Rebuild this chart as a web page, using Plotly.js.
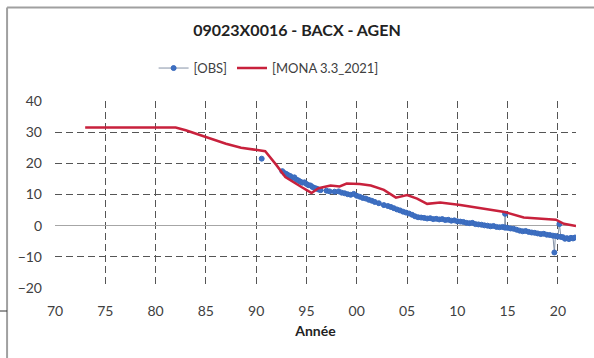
<!DOCTYPE html>
<html>
<head>
<meta charset="utf-8">
<script src="https://cdn.plot.ly/plotly-3.0.1.min.js"></script>
<style>
  html, body { margin: 0; padding: 0; background: #ffffff; }
  #chart { width: 594px; height: 358px; }
</style>
</head>
<body>
<div id="chart"></div>
<script>
// Observed piezometric levels (m NGF) - null breaks the line across gaps
const obsYears = [
  1990.55, null,
  1992.6, 1992.8, 1993.0, 1993.2, 1993.4, 1993.6, 1993.8, 1994.0, 1994.2, 1994.4,
  1994.6, 1994.8, 1995.0, 1995.2, 1995.4, 1995.6, 1995.8, 1996.0, 1996.2, 1996.4,
  1997.0, 1997.3, 1997.8, 1998.2, 1998.5, 1998.8, 1999.1, 1999.4, 1999.7, 2000.0,
  2000.3, 2000.6, 2000.9, 2001.2, 2001.5, 2001.8, 2002.2, 2002.7, 2003.1, 2003.4,
  2003.7, 2004.0, 2004.3, 2004.6, 2004.9, 2005.2, 2005.5, 2005.8, 2006.1, 2006.4,
  2006.7, 2007.0, 2007.3, 2007.6, 2007.9, 2008.2, 2008.5, 2008.8, 2009.1, 2009.4,
  2009.7, 2010.0, 2010.3, 2010.6, 2010.9, 2011.2, 2011.5, 2011.8, 2012.1, 2012.4,
  2012.7, 2013.0, 2013.3, 2013.6, 2013.9, 2014.2, 2014.5, 2014.7, 2014.75, 2014.8,
  2015.0, 2015.3, 2015.6, 2015.9, 2016.2, 2016.5, 2016.8, 2017.1, 2017.4, 2017.7,
  2018.0, 2018.3, 2018.6, 2018.9, 2019.2, 2019.5, 2019.65, 2019.75, 2020.0, 2020.15,
  2020.3, 2020.5, 2020.7, 2020.9, 2021.1, 2021.3, 2021.5, 2021.7
];
const obsValues = [
  21.5, null,
  17.5, 16.9, 16.6, 16.2, 15.9, 15.3, 15.5, 14.8, 14.5, 14.1,
  13.8, 13.9, 13.4, 13.0, 12.9, 12.4, 12.1, 11.9, 11.6, 11.4,
  11.2, 11.0, 10.9, 11.0, 10.6, 10.4, 10.1, 9.9, 10.2, 9.6,
  9.3, 8.9, 8.7, 8.3, 8.0, 7.6, 7.2, 6.6, 6.3, 6.0,
  5.6, 5.2, 4.9, 4.5, 4.2, 3.9, 3.5, 3.0, 2.7, 2.6,
  2.5, 2.3, 2.4, 2.1, 2.2, 2.0, 2.1, 1.8, 1.9, 1.6,
  1.7, 1.4, 1.3, 1.2, 0.9, 0.8, 0.9, 0.5, 0.4, 0.3,
  0.1, 0.0, -0.2, -0.1, -0.4, -0.5, -0.4, -0.6, 3.8, -0.6,
  -0.7, -0.9, -1.0, -1.3, -1.6, -1.8, -1.7, -2.0, -2.2, -2.3,
  -2.5, -2.7, -2.6, -2.9, -3.0, -3.2, -8.6, -3.3, -3.5, 0.5,
  -3.6, -3.7, -4.2, -4.0, -4.3, -3.9, -4.1, -3.8
];

// Simulated levels, MONA 3.3 model (2021 run)
const monaYears = [
  1973.0, 1982.0, 1983.0, 1985.0, 1987.0, 1988.5, 1990.0, 1990.9, 1992.0, 1992.9,
  1994.5, 1995.5, 1996.2, 1997.4, 1998.3, 1999.0, 2000.3, 2001.4, 2002.7, 2003.9,
  2005.0, 2006.0, 2007.0, 2008.3, 2010.3, 2012.5, 2014.7, 2016.6, 2019.8, 2020.6,
  2021.8
];
const monaValues = [
  31.5, 31.5, 30.6, 28.5, 26.3, 25.0, 24.4, 23.9, 19.5, 15.6,
  12.4, 10.5, 12.0, 12.9, 12.6, 13.5, 13.4, 12.9, 11.5, 9.0,
  9.8, 8.7, 7.0, 7.4, 6.6, 5.6, 4.4, 2.6, 1.9, 0.6,
  -0.1
];

const xTickVals = [1970, 1975, 1980, 1985, 1990, 1995, 2000, 2005, 2010, 2015, 2020];
const xTickText = ['70', '75', '80', '85', '90', '95', '00', '05', '10', '15', '20'];
const yTickVals = [-20, -10, 0, 10, 20, 30, 40];

const chartTitle = '09023X0016 - BACX - AGEN';
const xTitle = 'Année';

const FONT = 'Lato, "Open Sans", sans-serif';

const traces = [
  {
    type: 'scatter',
    mode: 'lines+markers',
    name: '[OBS]',
    x: obsYears,
    y: obsValues,
    connectgaps: false,
    line: { color: '#8593a8', width: 1 },
    marker: { symbol: 'circle', size: 5, color: '#3d6fc2', line: { width: 1, color: '#3a6bbd' } }
  },
  {
    type: 'scatter',
    mode: 'lines',
    name: '[MONA 3.3_2021]',
    x: monaYears,
    y: monaValues,
    line: { color: '#c8213c', width: 2.5 }
  }
];

const gridStyle = { gridcolor: '#555555', griddash: '7px,4px', gridwidth: 1 };

const layout = {
  width: 594,
  height: 358,
  paper_bgcolor: '#ffffff',
  plot_bgcolor: '#ffffff',
  margin: { l: 55, r: 18, t: 101, b: 70 },
  font: { family: FONT, color: '#404040', size: 13 },
  title: {
    text: '<b>' + chartTitle + '</b>',
    x: 0.5, xanchor: 'center',
    y: 0.915, yanchor: 'middle',
    font: { family: FONT, size: 16, color: '#222222' }
  },
  showlegend: true,
  legend: {
    orientation: 'h',
    x: 0.41, xanchor: 'center',
    y: 1.176, yanchor: 'middle',
    font: { family: FONT, size: 13, color: '#404040' },
    bgcolor: 'rgba(0,0,0,0)'
  },
  xaxis: Object.assign({
    range: [1970, 2021.8],
    tickvals: xTickVals,
    ticktext: xTickText,
    showgrid: true,
    zeroline: false,
    showline: false,
    ticks: '',
    ticklabelstandoff: 13,
    tickfont: { family: FONT, size: 14, color: '#404040' },
    title: { text: '<b>' + xTitle + '</b>', font: { family: FONT, size: 14, color: '#222222' }, standoff: 8 }
  }, gridStyle),
  yaxis: Object.assign({
    range: [-20, 40],
    tickvals: yTickVals,
    showgrid: true,
    zeroline: true,
    zerolinecolor: '#a6a6a6',
    zerolinewidth: 1.5,
    showline: false,
    ticks: '',
    ticklabelstandoff: 12,
    tickfont: { family: FONT, size: 14, color: '#404040' }
  }, gridStyle),
  shapes: [
    // chart frame (top and left edges)
    { type: 'line', xref: 'paper', yref: 'paper', x0: -0.092, x1: 1.04, y0: 1.5, y1: 1.5,
      line: { color: '#a0a0a0', width: 2 } },
    { type: 'line', xref: 'paper', yref: 'paper', x0: -0.092, x1: -0.092, y0: 1.5, y1: -0.4,
      line: { color: '#a0a0a0', width: 2 } },
    { type: 'line', xref: 'paper', yref: 'paper', x0: -0.106, x1: -0.092, y0: -0.123, y1: -0.123,
      line: { color: '#333333', width: 1 } }
  ]
};

Plotly.newPlot('chart', traces, layout, { displayModeBar: false, staticPlot: true });
</script>
</body>
</html>
